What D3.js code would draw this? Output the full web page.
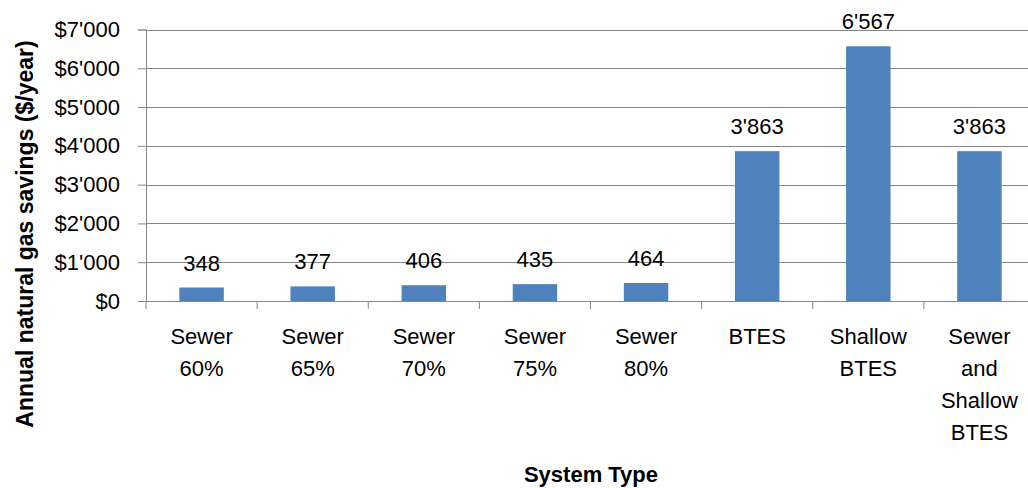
<!DOCTYPE html>
<html>
<head>
<meta charset="utf-8">
<script src="https://cdn.jsdelivr.net/npm/d3@7"></script>
<style>
  body { margin: 0; background: #fff; }
  svg { display: block; }
</style>
</head>
<body>
<div id="chart"></div>
<script>
// chart data
var categories = ["Sewer 60%", "Sewer 65%", "Sewer 70%", "Sewer 75%", "Sewer 80%",
                  "BTES", "Shallow BTES", "Sewer and Shallow BTES"];
var savings = [348, 377, 406, 435, 464, 3863, 6567, 3863];
var yTicks = [0, 1000, 2000, 3000, 4000, 5000, 6000, 7000];

var width = 1028, height = 488;
var plotLeft = 146, plotTop = 29.5, plotBottom = 301, plotRight = 1035;
var font = "'Liberation Sans', Arial, sans-serif";

var svg = d3.select("#chart").append("svg")
    .attr("width", width)
    .attr("height", height);

var xScale = d3.scaleBand()
    .domain(categories)
    .range([plotLeft, plotRight])
    .paddingInner(0.6)
    .paddingOuter(0.3);

var yScale = d3.scaleLinear()
    .domain([0, 7000])
    .range([plotBottom, plotTop]);

// apostrophe as thousands separator
var fmt = d3.formatLocale({decimal: ".", thousands: "'", grouping: [3], currency: ["$", ""]});
var money = fmt.format("$,.0f");
var num = fmt.format(",.0f");

// gridlines
svg.append("g")
  .selectAll("line")
  .data(yTicks.slice(1))
  .join("line")
    .attr("x1", plotLeft).attr("x2", width)
    .attr("y1", function(d) { return Math.round(yScale(d)) + 0.5; })
    .attr("y2", function(d) { return Math.round(yScale(d)) + 0.5; })
    .attr("stroke", "#868686")
    .attr("stroke-width", 1);

// y axis
var yAxis = d3.axisLeft(yScale).tickValues(yTicks).tickFormat(money).tickSize(8).tickPadding(18);
var gy = svg.append("g")
    .attr("transform", "translate(" + plotLeft + ",0)")
    .call(yAxis);
gy.select(".domain").attr("stroke", "#868686");
gy.selectAll(".tick line").attr("stroke", "#868686");
gy.selectAll("text")
    .attr("font-family", font)
    .attr("font-size", 22)
    .attr("fill", "#000");

// bars
svg.append("g")
  .selectAll("rect")
  .data(savings)
  .join("rect")
    .attr("x", function(d, i) { return xScale(categories[i]); })
    .attr("y", function(d) { return yScale(d); })
    .attr("width", xScale.bandwidth())
    .attr("height", function(d) { return plotBottom - yScale(d); })
    .attr("fill", "#4F81BD");

// data labels
svg.append("g")
  .selectAll("text")
  .data(savings)
  .join("text")
    .attr("x", function(d, i) { return xScale(categories[i]) + xScale.bandwidth() / 2; })
    .attr("y", function(d) { return yScale(d) - 17; })
    .attr("text-anchor", "middle")
    .attr("font-family", font)
    .attr("font-size", 22)
    .text(function(d) { return num(d); });

// x axis line and ticks at band boundaries
svg.append("line")
    .attr("x1", plotLeft).attr("x2", width)
    .attr("y1", plotBottom + 0.5).attr("y2", plotBottom + 0.5)
    .attr("stroke", "#868686");
svg.append("g")
  .selectAll("line")
  .data(categories)
  .join("line")
    .attr("x1", function(d) { return xScale(d) - xScale.bandwidth() * 0.75; })
    .attr("x2", function(d) { return xScale(d) - xScale.bandwidth() * 0.75; })
    .attr("y1", plotBottom).attr("y2", plotBottom + 8)
    .attr("stroke", "#868686");

// category labels, one word per line
svg.append("g")
  .selectAll("text")
  .data(categories)
  .join("text")
    .attr("text-anchor", "middle")
    .attr("font-family", font)
    .attr("font-size", 22)
    .each(function(d) {
      var cx = xScale(d) + xScale.bandwidth() / 2;
      d3.select(this).selectAll("tspan")
        .data(d.split(" "))
        .join("tspan")
          .attr("x", cx)
          .attr("y", function(w, j) { return 344 + j * 32; })
          .text(function(w) { return w; });
    });

// axis titles
svg.append("text")
    .attr("x", 591).attr("y", 482)
    .attr("text-anchor", "middle")
    .attr("font-family", font)
    .attr("font-size", 22)
    .attr("font-weight", "bold")
    .text("System Type");

svg.append("text")
    .attr("transform", "translate(33,234) rotate(-90)")
    .attr("text-anchor", "middle")
    .attr("font-family", font)
    .attr("font-size", 23)
    .attr("font-weight", "bold")
    .text("Annual natural gas savings ($/year)");
</script>
</body>
</html>
